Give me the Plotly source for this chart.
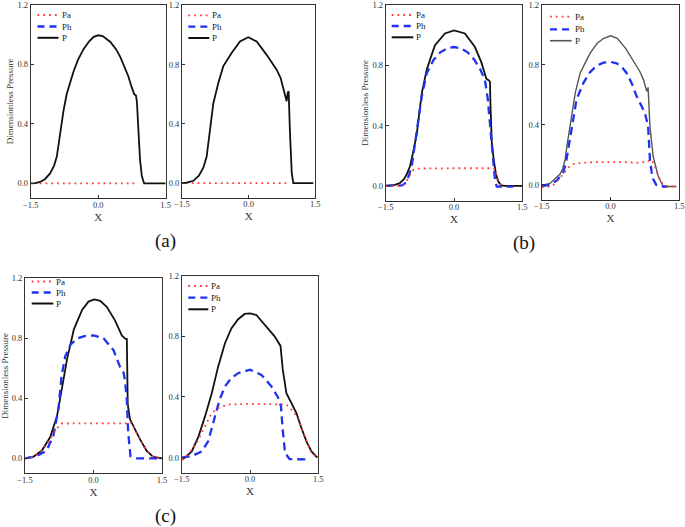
import plotly.graph_objects as go

# ---------------- data ----------------
# (a) left
a1_x_P = [-1.5, -1.4, -1.29, -1.18, -1.07, -0.98, -0.92, -0.85, -0.77, -0.7, -0.62, -0.55, -0.45, -0.33, -0.2, -0.1, 0.0,
          0.1, 0.27, 0.4, 0.49, 0.58, 0.67, 0.74, 0.8, 0.84, 0.86, 0.89, 0.93, 0.97, 1.02, 1.2, 1.5]
a1_P = [0.0, 0.002, 0.01, 0.03, 0.067, 0.12, 0.18, 0.34, 0.49, 0.6, 0.69, 0.75, 0.83, 0.9, 0.955, 0.985, 0.995,
        0.99, 0.95, 0.9, 0.85, 0.79, 0.72, 0.65, 0.6, 0.59, 0.55, 0.38, 0.16, 0.05, 0.0, 0.0, 0.0]
a1_x_Ph = []
a1_Ph = []
a1_x_Pa = [-1.3, 0.0, 0.87]
a1_Pa = [0.0, 0.0, 0.0]

# (a) right
a2_x_P = [-1.5, -1.4, -1.245, -1.12, -1.02, -0.945, -0.87, -0.795, -0.68, -0.57, -0.38, -0.195, -0.0075, 0.18, 0.405,
          0.63, 0.72, 0.78, 0.855, 0.88, 0.9, 0.93, 0.97, 1.005, 1.2, 1.455]
a2_P = [0.0, 0.003, 0.016, 0.05, 0.105, 0.18, 0.36, 0.54, 0.68, 0.79, 0.88, 0.956, 0.985, 0.956, 0.866,
        0.766, 0.71, 0.64, 0.553, 0.61, 0.62, 0.34, 0.07, 0.0, 0.0, 0.0]
a2_x_Ph = []
a2_Ph = []
a2_x_Pa = [-1.28, 0.0, 0.93]
a2_Pa = [0.0, 0.0, 0.0]

# (b) left
b1_x_P = [-1.5, -1.3, -1.19, -1.1, -1.04, -0.967, -0.9, -0.82, -0.71, -0.6, -0.5, -0.42, -0.2, 0.0, 0.24, 0.46, 0.6,
          0.71, 0.76, 0.79, 0.8, 0.83, 0.87, 0.92, 0.97, 1.03, 1.1, 1.5]
b1_P = [0.0, 0.007, 0.018, 0.045, 0.075, 0.13, 0.22, 0.34, 0.61, 0.77, 0.86, 0.93, 1.01, 1.03, 1.01, 0.92, 0.82,
        0.71, 0.70, 0.69, 0.55, 0.29, 0.18, 0.08, 0.03, 0.005, 0.0, 0.0]
b1_x_Ph = [-1.5, -1.3, -1.15, -1.08, -1.0, -0.93, -0.87, -0.82, -0.71, -0.6, -0.45, -0.3, -0.15, 0.0, 0.15, 0.3, 0.45,
           0.58, 0.68, 0.74, 0.79, 0.83, 0.865, 0.9, 0.94, 1.1, 1.3]
b1_Ph = [0.0, 0.0, 0.003, 0.015, 0.06, 0.128, 0.25, 0.37, 0.59, 0.746, 0.834, 0.885, 0.912, 0.92, 0.912, 0.885, 0.835,
         0.77, 0.70, 0.58, 0.415, 0.25, 0.128, 0.04, -0.005, -0.005, -0.005]
b1_x_Pa = [-1.5, -1.2, -1.1, -1.04, -0.97, -0.9, -0.8, -0.5, 0.0, 0.5, 0.85, 0.9, 0.97, 1.05]
b1_Pa = [0.0, 0.0, 0.01, 0.03, 0.07, 0.105, 0.115, 0.117, 0.117, 0.117, 0.117, 0.11, 0.03, 0.0]

# (b) right
b2_x_P = [-1.5, -1.46, -1.32, -1.25, -1.17, -1.1, -1.04, -0.99, -0.94, -0.88, -0.82, -0.77, -0.7, -0.66, -0.59, -0.52,
          -0.44, -0.29, -0.146, 0.0, 0.146, 0.33, 0.51, 0.64, 0.72, 0.775, 0.79, 0.82, 0.86, 0.93, 0.99, 1.04, 1.1,
          1.15, 1.44]
b2_P = [0.0, 0.0, 0.01, 0.03, 0.05, 0.073, 0.11, 0.17, 0.28, 0.39, 0.5, 0.61, 0.7, 0.746, 0.79, 0.834,
        0.88, 0.944, 0.977, 0.993, 0.977, 0.91, 0.82, 0.756, 0.7, 0.647, 0.624, 0.65, 0.39, 0.19, 0.11, 0.06, 0.02,
        -0.01, -0.01]
b2_x_Ph = [-1.5, -1.3, -1.17, -1.03, -0.97, -0.92, -0.85, -0.74, -0.59, -0.45, -0.3, -0.15, 0.0, 0.135, 0.25, 0.35,
           0.46, 0.57, 0.67, 0.75, 0.82, 0.86, 0.9, 0.93, 1.0, 1.1, 1.25]
b2_Ph = [-0.01, 0.005, 0.03, 0.084, 0.15, 0.24, 0.39, 0.57, 0.68, 0.75, 0.795, 0.815, 0.82, 0.81, 0.785, 0.746,
         0.68, 0.59, 0.53, 0.48, 0.39, 0.17, 0.08, 0.04, 0.0, -0.01, -0.01]
b2_x_Pa = [-1.5, -1.35, -1.25, -1.15, -1.03, -0.92, -0.81, -0.6, -0.3, 0.0, 0.3, 0.6, 0.8, 0.88, 0.95, 1.04, 1.1,
           1.2, 1.44]
b2_Pa = [-0.015, -0.012, 0.0, 0.03, 0.073, 0.117, 0.139, 0.148, 0.153, 0.155, 0.152, 0.148, 0.155, 0.17, 0.14, 0.06,
         0.02, -0.01, -0.01]

# (c) left
c1_x_P = [-1.5, -1.32, -1.135, -0.95, -0.8, -0.69, -0.58, -0.43, -0.25, -0.11, 0.02, 0.146, 0.29, 0.47, 0.62, 0.69,
          0.71, 0.73, 0.75, 0.8, 0.87, 1.02, 1.165, 1.31, 1.5]
c1_P = [0.0, 0.01, 0.05, 0.14, 0.28, 0.48, 0.66, 0.86, 0.99, 1.045, 1.06, 1.05, 1.01, 0.92, 0.82, 0.80,
        0.795, 0.80, 0.36, 0.26, 0.215, 0.126, 0.05, 0.01, 0.0]
c1_x_Ph = [-1.5, -1.245, -1.03, -0.88, -0.77, -0.7, -0.62, -0.5, -0.35, -0.2, 0.0, 0.22, 0.44, 0.58, 0.66, 0.69,
           0.73, 0.76, 0.81, 0.95, 1.46]
c1_Ph = [0.0, 0.015, 0.05, 0.15, 0.325, 0.547, 0.68, 0.76, 0.8, 0.815, 0.82, 0.80, 0.72, 0.61, 0.57, 0.52,
         0.39, 0.17, 0.015, 0.0, 0.0]
c1_x_Pa = [-1.5, -1.32, -1.1, -0.95, -0.8, -0.7, -0.5, 0.0, 0.5, 0.73, 0.8, 0.87, 1.02, 1.165, 1.31, 1.5]
c1_Pa = [0.0, 0.01, 0.06, 0.126, 0.2, 0.232, 0.233, 0.233, 0.233, 0.233, 0.245, 0.215, 0.126, 0.05, 0.01, 0.0]

# (c) right
c2_x_P = [-1.5, -1.43, -1.28, -1.13, -0.99, -0.84, -0.7, -0.55, -0.41, -0.26, -0.117, 0.0, 0.14, 0.32, 0.54, 0.67,
          0.72, 0.8, 0.91, 1.02, 1.13, 1.24, 1.35, 1.48]
c2_P = [-0.015, 0.0, 0.04, 0.14, 0.27, 0.425, 0.6, 0.755, 0.853, 0.913, 0.948, 0.952, 0.941, 0.875, 0.8, 0.737,
        0.58, 0.425, 0.36, 0.294, 0.195, 0.107, 0.04, 0.0]
c2_x_Ph = [-1.5, -1.28, -1.06, -0.92, -0.78, -0.67, -0.55, -0.41, -0.26, 0.0, 0.25, 0.47, 0.61, 0.68, 0.72, 0.77,
           0.87, 1.05, 1.3]
c2_Ph = [0.0, 0.01, 0.04, 0.107, 0.26, 0.38, 0.47, 0.524, 0.557, 0.58, 0.546, 0.47, 0.40, 0.34, 0.18, 0.03,
         -0.01, -0.013, -0.013]
c2_x_Pa = [-1.5, -1.43, -1.28, -1.13, -0.99, -0.84, -0.7, -0.48, 0.0, 0.32, 0.65, 0.8, 0.91, 1.02, 1.13, 1.24,
           1.35, 1.48]
c2_Pa = [-0.013, 0.0, 0.05, 0.12, 0.206, 0.294, 0.327, 0.35, 0.355, 0.353, 0.353, 0.35, 0.316, 0.276, 0.195,
         0.107, 0.03, 0.0]

series_names = ["Pa", "Ph", "P"]
x_ticks = [-1.5, 0.0, 1.5]
y_ticks = [0.0, 0.4, 0.8, 1.2]
panel_labels = ["(a)", "(b)", "(c)"]

# ---------------- layout helpers ----------------
W, H = 685, 527
FONT = "Liberation Serif"
RED = "rgb(255,60,60)"
BLUE = "rgb(30,50,240)"

# pixel boxes: left, right, top, bottom ; legend: line x0, x1, text x, row ys
panels = [
    dict(data=(a1_x_P, a1_P, a1_x_Ph, a1_Ph, a1_x_Pa, a1_Pa), box=(30.7, 165.7, 4.7, 198.3), ytitle=True,
         leg=(37.5, 58.5, 59.5, (15.0, 26.5, 37.8)), pcol="#111111", pw=1.8),
    dict(data=(a2_x_P, a2_P, a2_x_Ph, a2_Ph, a2_x_Pa, a2_Pa), box=(182.0, 315.3, 5.3, 198.0), ytitle=False,
         leg=(188.3, 209.3, 210.0, (15.3, 26.7, 38.0)), pcol="#111111", pw=1.8),
    dict(data=(b1_x_P, b1_P, b1_x_Ph, b1_Ph, b1_x_Pa, b1_Pa), box=(385.7, 522.3, 4.7, 201.0), ytitle=True,
         leg=(391.7, 413.3, 414.0, (15.0, 26.0, 37.3)), pcol="#111111", pw=1.8),
    dict(data=(b2_x_P, b2_P, b2_x_Ph, b2_Ph, b2_x_Pa, b2_Pa), box=(541.7, 679.3, 4.7, 200.0), ytitle=False,
         leg=(550.0, 571.7, 572.5, (16.7, 29.3, 40.7)), pcol="#555555", pw=1.4),
    dict(data=(c1_x_P, c1_P, c1_x_Ph, c1_Ph, c1_x_Pa, c1_Pa), box=(25.0, 162.0, 278.3, 473.3), ytitle=True,
         leg=(31.7, 53.3, 54.0, (281.5, 292.5, 303.5)), pcol="#111111", pw=1.8),
    dict(data=(c2_x_P, c2_P, c2_x_Ph, c2_Ph, c2_x_Pa, c2_Pa), box=(181.7, 318.3, 275.7, 472.7), ytitle=False,
         leg=(188.3, 208.3, 209.0, (286.0, 297.7, 309.3)), pcol="#111111", pw=1.8),
]


def px(x):
    return x / W


def py(y):
    return 1 - y / H


fig = go.Figure()
shapes = []
annotations = []

for i, p in enumerate(panels, start=1):
    xP, P, xPh, Ph, xPa, Pa = p["data"]
    xa = "x" if i == 1 else f"x{i}"
    ya = "y" if i == 1 else f"y{i}"
    fig.add_trace(go.Scatter(x=xP, y=P, mode="lines", name="P", xaxis=xa, yaxis=ya, showlegend=False,
                             line=dict(color=p["pcol"], width=p["pw"])))
    if len(xPh):
        fig.add_trace(go.Scatter(x=xPh, y=Ph, mode="lines", name="Ph", xaxis=xa, yaxis=ya, showlegend=False,
                                 line=dict(color=BLUE, width=2.3, dash="8px,5px")))
    fig.add_trace(go.Scatter(x=xPa, y=Pa, mode="lines", name="Pa", xaxis=xa, yaxis=ya, showlegend=False,
                             line=dict(color=RED, width=1.8, dash="1.8px,4px")))

    l, r, t, b = p["box"]
    axcommon = dict(showgrid=False, zeroline=False, showline=True, mirror=True, linecolor="#333333", linewidth=1,
                    ticks="inside", ticklen=3, tickcolor="#333333", automargin=False, ticklabeloverflow="allow",
                    tickfont=dict(family=FONT, size=8.5, color="#333333"))
    sfx = "" if i == 1 else str(i)
    fig.layout["xaxis" + sfx] = dict(axcommon, domain=[px(l), px(r)], anchor=ya, range=[-1.5005, 1.5005],
                                     tickvals=x_ticks, tickformat=".1f", ticklabelstandoff=-2,
                                     title=dict(text="X", font=dict(family=FONT, size=11, color="#333333"),
                                                standoff=4))
    fig.layout["yaxis" + sfx] = dict(axcommon, domain=[py(b), py(t)], anchor=xa, range=[-0.1, 1.2005],
                                     tickvals=y_ticks, tickformat=".1f",
                                     title=dict(text="Dimensionless Pressure" if p["ytitle"] else "",
                                                font=dict(family=FONT, size=9, color="#333333"), standoff=2))

    # legend drawn as annotations + sample lines
    lx0, lx1, tx, rows = p["leg"]
    styles = [dict(color=RED, width=1.8, dash="1.8px,4px"),
              dict(color=BLUE, width=2.3, dash="7px,5px"),
              dict(color=p["pcol"], width=p["pw"] + 0.2, dash="solid")]
    for name, ry, st in zip(series_names, rows, styles):
        shapes.append(dict(type="line", xref="paper", yref="paper", x0=px(lx0), x1=px(lx1), y0=py(ry), y1=py(ry),
                           line=st))
        annotations.append(dict(text=name, xref="paper", yref="paper", x=px(tx), y=py(ry), xanchor="left",
                                yanchor="middle", showarrow=False,
                                font=dict(family=FONT, size=9, color="#222222")))

for lab, (lx, ly) in zip(panel_labels, [(165, 241), (524, 243), (165, 516)]):
    annotations.append(dict(text=lab, xref="paper", yref="paper", x=px(lx), y=py(ly), xanchor="center",
                            yanchor="middle", showarrow=False, font=dict(family=FONT, size=19, color="#111111")))

fig.update_layout(width=W, height=H, margin=dict(l=0, r=0, t=0, b=0, autoexpand=False), paper_bgcolor="white",
                  plot_bgcolor="white", showlegend=False, shapes=shapes, annotations=annotations)

fig.write_html("out.html", config={"displayModeBar": False},
               post_script="document.body.style.margin='0';document.body.style.overflow='hidden';")
